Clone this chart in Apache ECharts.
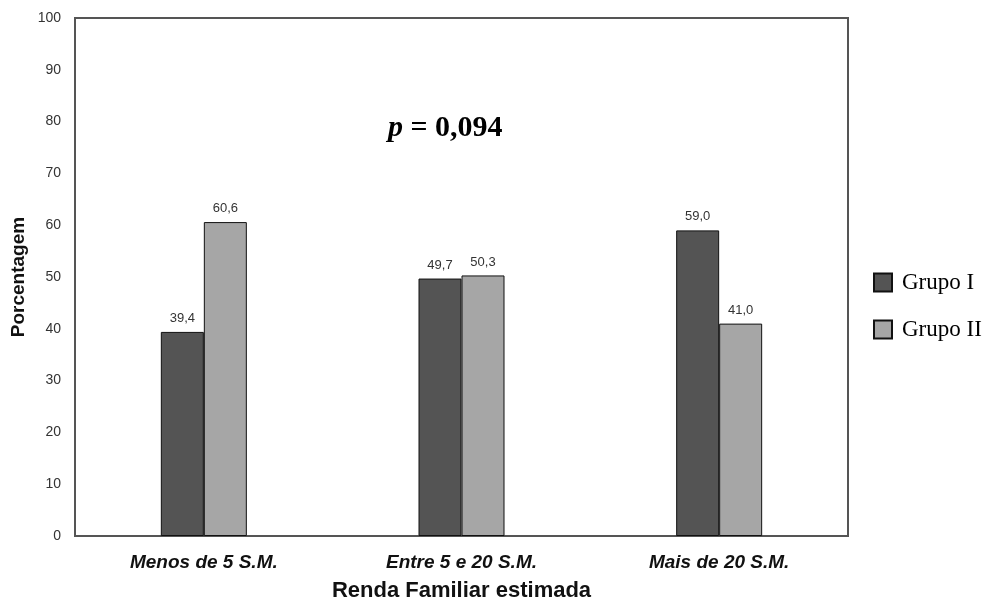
<!DOCTYPE html>
<html>
<head>
<meta charset="utf-8">
<script src="https://cdn.jsdelivr.net/npm/echarts@6/dist/echarts.min.js"></script>
<style>
  html, body { margin: 0; padding: 0; background: #fff; }
  #chart { width: 1000px; height: 602px; }
</style>
</head>
<body>
<div id="chart"></div>
<script>
// Income brackets and percentage per group
const categories = ['Menos de 5 S.M.', 'Entre 5 e 20 S.M.', 'Mais de 20 S.M.'];
const grupoI = [39.4, 49.7, 59.0];
const grupoII = [60.6, 50.3, 41.0];
const seriesNames = ['Grupo I', 'Grupo II'];
const pValueText = '0,094';

const fmt = v => v.toFixed(1).replace('.', ',');

const chart = echarts.init(document.getElementById('chart'));

const sans = 'Arial, Liberation Sans, sans-serif';
const serif = 'Liberation Serif, Times New Roman, serif';

const labelStyle = {
  show: true,
  position: 'top',
  distance: 7,
  fontFamily: sans,
  fontSize: 13,
  color: '#333',
  formatter: p => fmt(p.value)
};

chart.setOption({
  animation: false,
  grid: {
    left: 75, top: 18, right: 152, bottom: 66,
    outerBoundsMode: 'none',
    containLabel: false,
    show: true, borderColor: '#555', borderWidth: 2, backgroundColor: '#fff'
  },
  legend: {
    orient: 'vertical',
    left: 868, top: 266,
    itemWidth: 18, itemHeight: 18, itemGap: 24,
    icon: 'rect',
    textStyle: { fontFamily: serif, fontSize: 23, color: '#000', padding: [0, 0, 0, 5] },
    data: seriesNames
  },
  xAxis: {
    type: 'category',
    data: categories,
    axisTick: { show: false },
    axisLine: { show: true, lineStyle: { color: '#555', width: 2 } },
    axisLabel: {
      margin: 17,
      fontFamily: sans,
      fontSize: 19, fontWeight: 'bold', fontStyle: 'italic', color: '#111'
    },
    name: 'Renda Familiar estimada',
    nameLocation: 'middle',
    nameGap: 44,
    nameMoveOverlap: false,
    nameTextStyle: { fontFamily: sans, fontSize: 22, fontWeight: 'bold', color: '#111' }
  },
  yAxis: {
    type: 'value',
    min: 0, max: 100, interval: 10,
    axisTick: { show: false },
    splitLine: { show: false },
    axisLine: { show: true, lineStyle: { color: '#555', width: 2 } },
    axisLabel: { margin: 14, fontFamily: sans, fontSize: 14, color: '#333' },
    name: 'Porcentagem',
    nameLocation: 'middle',
    nameGap: 47,
    nameMoveOverlap: false,
    nameTextStyle: { fontFamily: sans, fontSize: 19, fontWeight: 'bold', color: '#111' }
  },
  graphic: [{
    type: 'text',
    left: 388, top: 113,
    style: {
      rich: {
        p: { fontFamily: serif, fontSize: 30, fontWeight: 'bold', fontStyle: 'italic', fill: '#000' },
        v: { fontFamily: serif, fontSize: 30, fontWeight: 'bold', fill: '#000' }
      },
      text: '{p|p}{v| = ' + pValueText + '}'
    }
  }],
  series: [
    {
      name: seriesNames[0], type: 'bar', data: grupoI,
      barWidth: 43, barGap: '0%',
      itemStyle: { color: '#545454', borderColor: '#111', borderWidth: 1 },
      label: labelStyle
    },
    {
      name: seriesNames[1], type: 'bar', data: grupoII,
      barWidth: 43,
      itemStyle: { color: '#a6a6a6', borderColor: '#111', borderWidth: 1 },
      label: labelStyle
    }
  ]
});
</script>
</body>
</html>
